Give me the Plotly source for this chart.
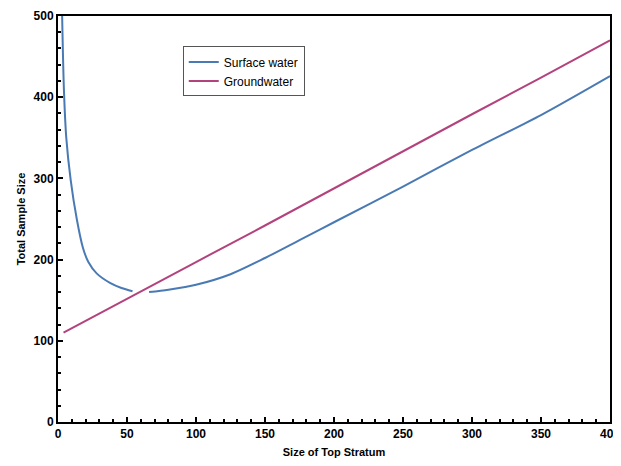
import plotly.graph_objects as go

# Surface water curve (None marks the small gap in the drawn line)
surface_x = [3, 4.3, 6, 9.2, 13.6, 18, 22, 28, 38, 46, 54, None, 66, 80, 100, 125, 150, 175, 200, 250, 300, 350, 400]
surface_y = [500, 409, 350, 298, 250, 215, 197, 183, 171, 165, 161, None, 160, 163, 169, 182, 202, 224, 246, 290, 335, 378, 426]

# Groundwater line
ground_x = [4, 50, 100, 150, 200, 250, 300, 350, 400]
ground_y = [110, 152, 197, 242, 288, 333, 379, 424, 470]

x_ticks = [0, 50, 100, 150, 200, 250, 300, 350, 400]
y_ticks = [0, 100, 200, 300, 400, 500]

fig = go.Figure()
fig.add_trace(go.Scatter(x=surface_x, y=surface_y, mode="lines", name="Surface water",
                         line=dict(color="#4a7ab4", width=2, shape="spline", smoothing=0.8),
                         connectgaps=False))
fig.add_trace(go.Scatter(x=ground_x, y=ground_y, mode="lines", name="Groundwater",
                         line=dict(color="#b3437d", width=2)))

fam = "Liberation Sans, Arial, sans-serif"
tickfont = dict(family=fam, size=12, color="black", weight="bold")

fig.update_layout(
    width=613, height=458,
    margin=dict(l=50, r=11, t=8, b=44),
    paper_bgcolor="white", plot_bgcolor="white",
    showlegend=True,
    legend=dict(x=0.226, y=0.925, xanchor="left", yanchor="top",
                bgcolor="white", bordercolor="#555", borderwidth=1,
                font=dict(family=fam, size=12, color="black"),
                tracegroupgap=0),
    xaxis=dict(range=[0, 400], tickvals=x_ticks, ticktext=[str(v) for v in x_ticks],
               automargin=False,
               showgrid=False, zeroline=False, showline=True, linecolor="black", linewidth=2,
               mirror=True, ticks="inside", ticklen=5, tickwidth=1.5, tickcolor="black",
               minor=dict(dtick=10, ticks="inside", ticklen=3, tickcolor="black", showgrid=False),
               tickfont=tickfont,
               title=dict(text="Size of Top Stratum", standoff=8,
                          font=dict(family=fam, size=11, color="black", weight="bold"))),
    yaxis=dict(range=[0, 500], tickvals=y_ticks, ticktext=[str(v) for v in y_ticks],
               automargin=False,
               showgrid=False, zeroline=False, showline=True, linecolor="black", linewidth=2,
               mirror=True, ticks="inside", ticklen=5, tickwidth=1.5, tickcolor="black",
               minor=dict(dtick=20, ticks="inside", ticklen=3, tickcolor="black", showgrid=False),
               tickfont=tickfont,
               title=dict(text="Total Sample Size", standoff=6,
                          font=dict(family=fam, size=11, color="black", weight="bold"))),
)

fig.write_html("out.html")
